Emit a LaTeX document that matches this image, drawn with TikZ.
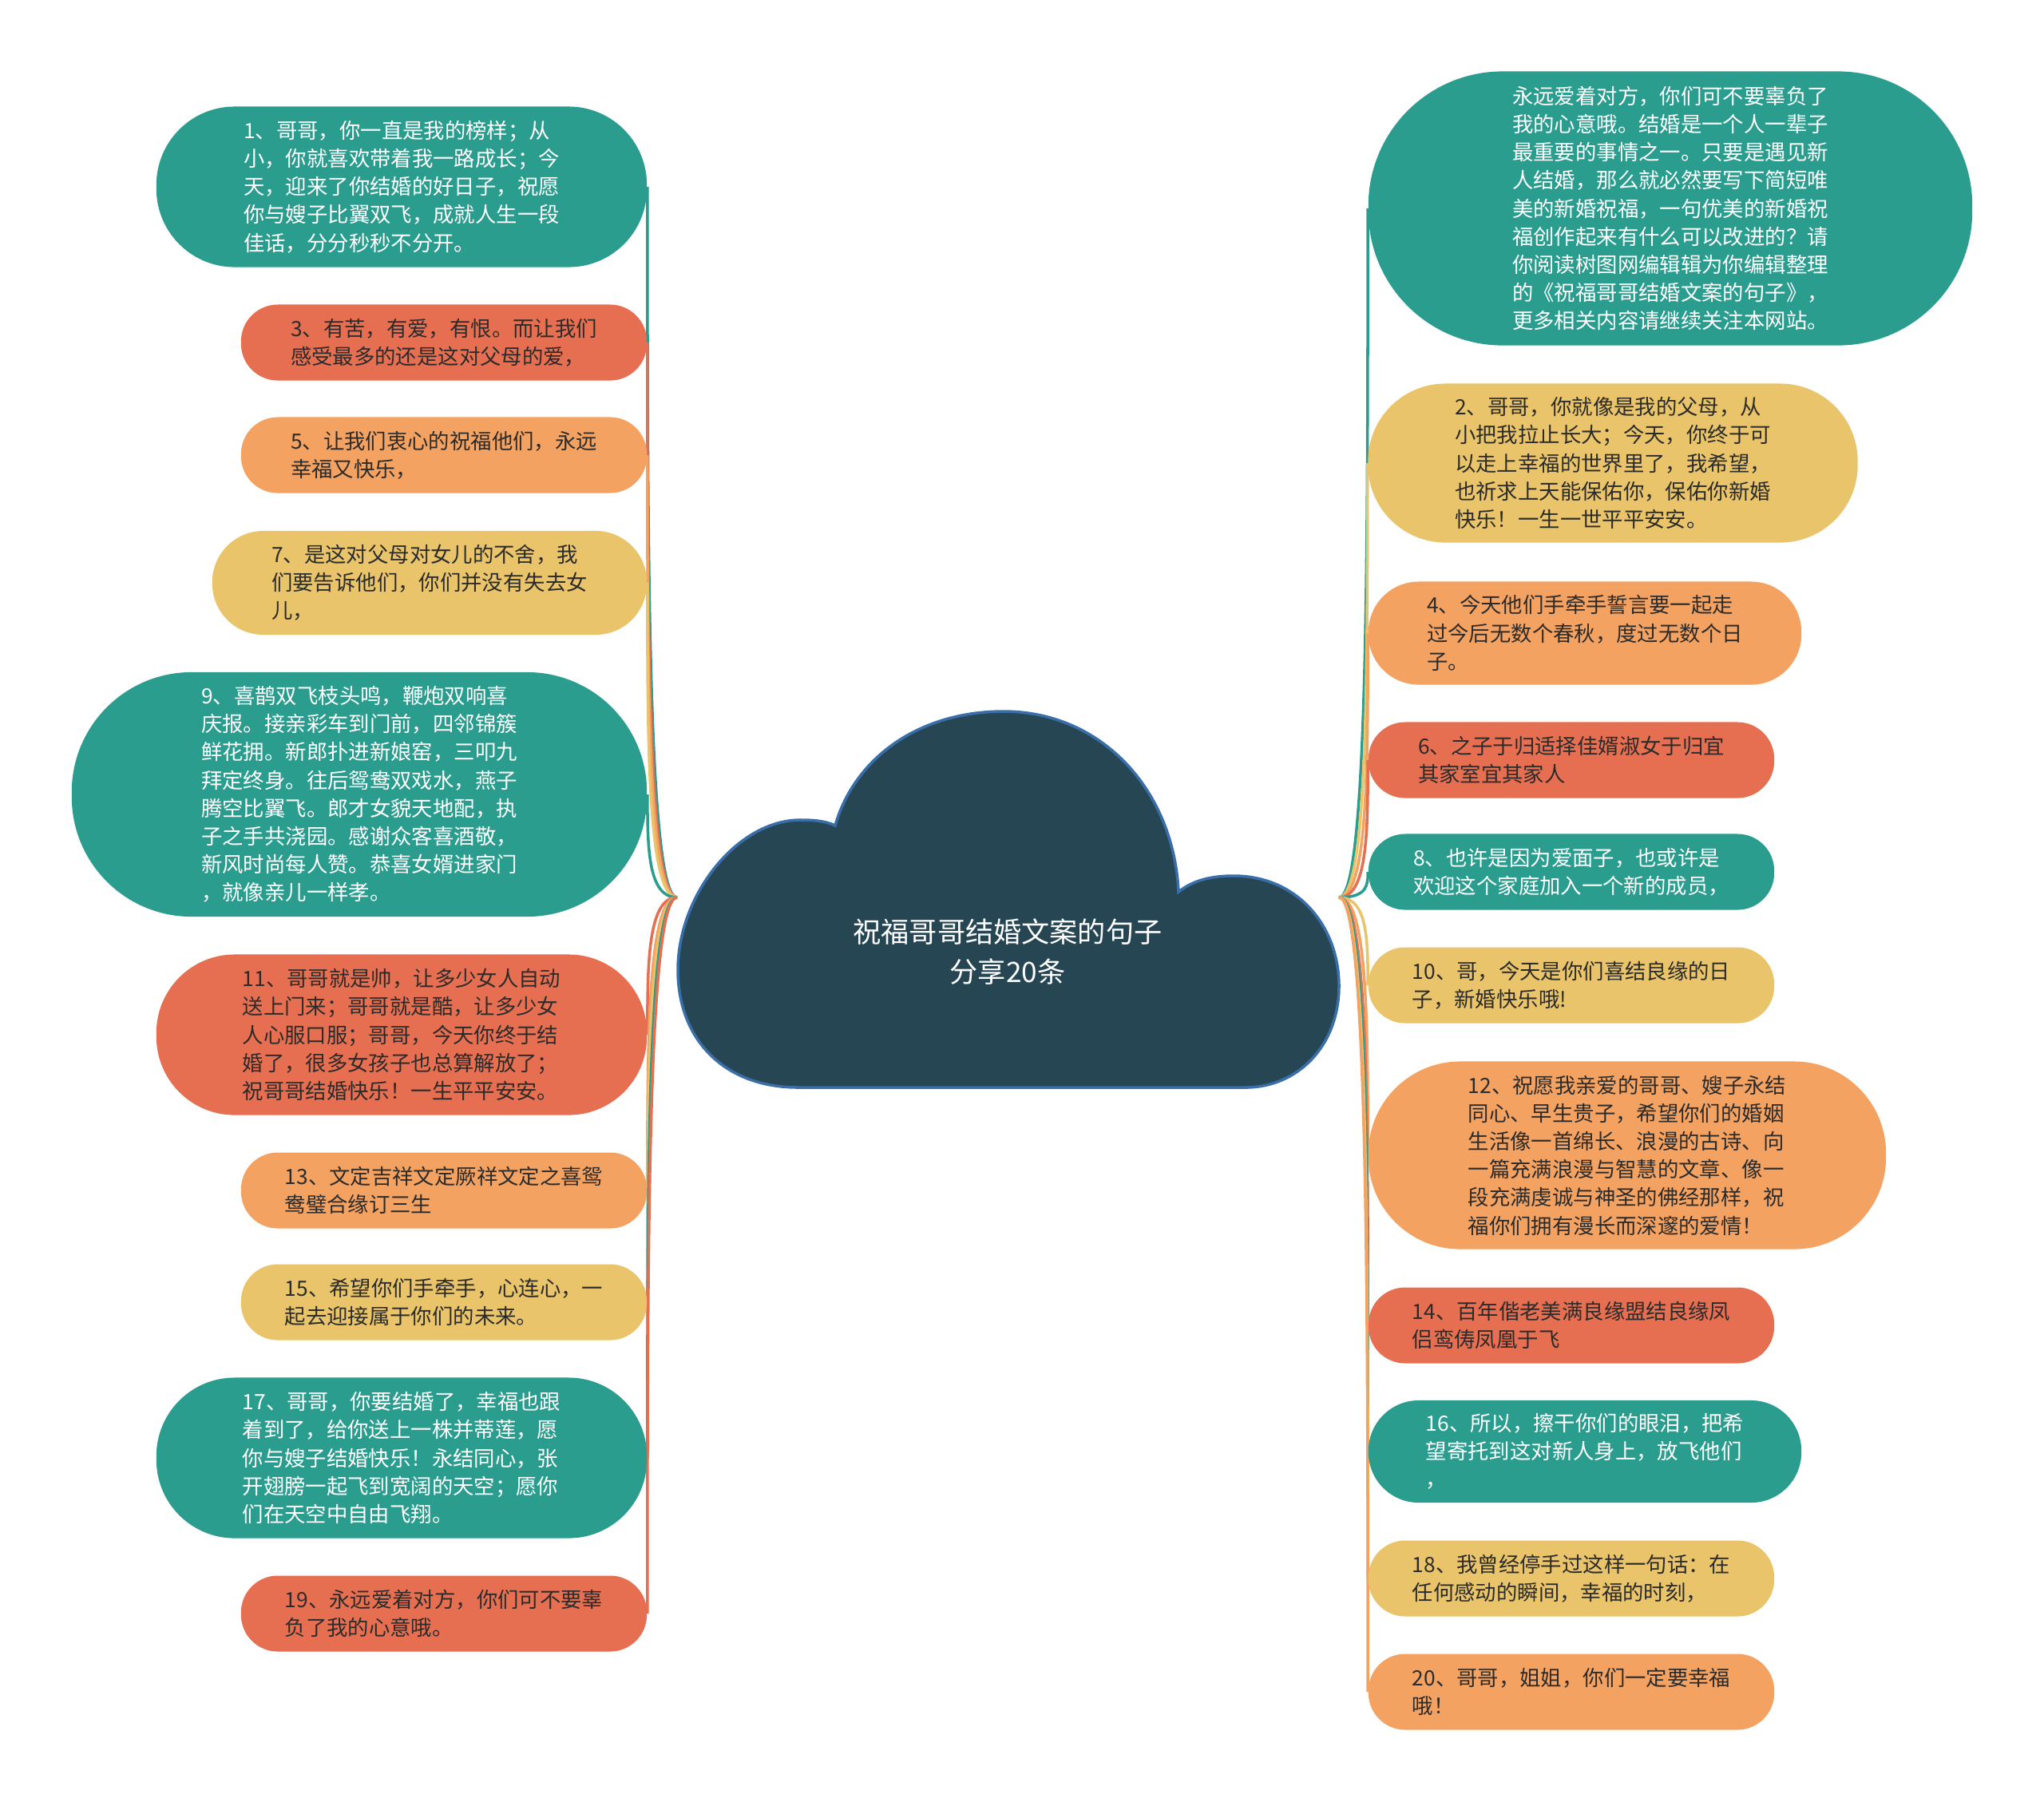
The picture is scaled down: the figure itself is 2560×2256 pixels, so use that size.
\documentclass[tikz,border=0pt]{standalone}
\usepackage{fontspec}
\newfontfamily\cjk{Noto Sans CJK SC}
\usetikzlibrary{calc,backgrounds}

\definecolor{tealc}{HTML}{2A9D8F}
\definecolor{redc}{HTML}{E76F51}
\definecolor{orangec}{HTML}{F4A261}
\definecolor{yellowc}{HTML}{E9C46A}
\definecolor{cloudc}{HTML}{264653}
\definecolor{cloudline}{HTML}{3A6EA8}
\definecolor{darktext}{HTML}{2B2B2B}

\tikzset{
  pill/.style={rectangle, align=left, inner sep=0pt,
    font=\cjk\fontsize{7.5}{10}\selectfont},
  tealpill/.style={pill, fill=tealc, text=white},
  redpill/.style={pill, fill=redc, text=darktext},
  orangepill/.style={pill, fill=orangec, text=darktext},
  yellowpill/.style={pill, fill=yellowc, text=darktext},
  link/.style={line width=1pt},
}

\begin{document}
\begin{tikzpicture}[x=0.01cm, y=-0.01cm]
    \useasboundingbox (0,0) rectangle (2560,2256);

    % the cloud in the middle
    \filldraw[fill=cloudc, draw=cloudline, line width=1pt]
        (1000,1362) .. controls (905,1362) and (849,1300) .. (849,1215)
        .. controls (849,1120) and (925,1025) .. (1005,1027)
        .. controls (1025,1027) and (1038,1030) .. (1046,1034)
        .. controls (1070,950) and (1150,891) .. (1257,891)
        .. controls (1380,891) and (1470,990) .. (1476,1117)
        .. controls (1495,1102) and (1518,1097) .. (1545,1097)
        .. controls (1625,1097) and (1677,1160) .. (1677,1235)
        .. controls (1677,1310) and (1625,1362) .. (1560,1362)
        -- cycle;
    \node[font=\cjk\fontsize{10}{14}\selectfont, text=white, align=center] (root)
        at (1262,1192) {祝福哥哥结婚文案的句子\\分享20条};
    \coordinate (rootW) at (848,1124);
    \coordinate (rootE) at (1677,1124);

    % left side
    \node[tealpill, minimum width=6.14cm, minimum height=2.01cm, rounded corners=0.98cm] (l1) at (503,234)
        {1、哥哥，你一直是我的榜样；从\\小，你就喜欢带着我一路成长；今\\天，迎来了你结婚的好日子，祝愿\\你与嫂子比翼双飞，成就人生一段\\佳话，分分秒秒不分开。};
    \node[redpill, minimum width=5.08cm, minimum height=0.95cm, rounded corners=0.46cm] (l3) at (556,429)
        {3、有苦，有爱，有恨。而让我们\\感受最多的还是这对父母的爱，};
    \node[orangepill, minimum width=5.08cm, minimum height=0.95cm, rounded corners=0.46cm] (l5) at (556,570)
        {5、让我们衷心的祝福他们，永远\\幸福又快乐，};
    \node[yellowpill, minimum width=5.44cm, minimum height=1.30cm, rounded corners=0.64cm] (l7) at (538,730)
        {7、是这对父母对女儿的不舍，我\\们要告诉他们，你们并没有失去女\\儿，};
    \node[tealpill, minimum width=7.20cm, minimum height=3.06cm, rounded corners=1.5cm] (l9) at (450,995)
        {9、喜鹊双飞枝头鸣，鞭炮双响喜\\庆报。接亲彩车到门前，四邻锦簇\\鲜花拥。新郎扑进新娘窑，三叩九\\拜定终身。往后鸳鸯双戏水，燕子\\腾空比翼飞。郎才女貌天地配，执\\子之手共浇园。感谢众客喜酒敬，\\新风时尚每人赞。恭喜女婿进家门\\，就像亲儿一样孝。};
    \node[redpill, minimum width=6.14cm, minimum height=2.01cm, rounded corners=0.98cm] (l11) at (503,1296)
        {11、哥哥就是帅，让多少女人自动\\送上门来；哥哥就是酷，让多少女\\人心服口服；哥哥，今天你终于结\\婚了，很多女孩子也总算解放了；\\祝哥哥结婚快乐！一生平平安安。};
    \node[orangepill, minimum width=5.08cm, minimum height=0.95cm, rounded corners=0.46cm] (l13) at (556,1491)
        {13、文定吉祥文定厥祥文定之喜鸳\\鸯璧合缘订三生};
    \node[yellowpill, minimum width=5.08cm, minimum height=0.95cm, rounded corners=0.46cm] (l15) at (556,1631)
        {15、希望你们手牵手，心连心，一\\起去迎接属于你们的未来。};
    \node[tealpill, minimum width=6.14cm, minimum height=2.01cm, rounded corners=0.98cm] (l17) at (503,1826)
        {17、哥哥，你要结婚了，幸福也跟\\着到了，给你送上一株并蒂莲，愿\\你与嫂子结婚快乐！永结同心，张\\开翅膀一起飞到宽阔的天空；愿你\\们在天空中自由飞翔。};
    \node[redpill, minimum width=5.08cm, minimum height=0.95cm, rounded corners=0.46cm] (l19) at (556,2021)
        {19、永远爱着对方，你们可不要辜\\负了我的心意哦。};

    % right side
    \node[tealpill, minimum width=7.56cm, minimum height=3.43cm, rounded corners=1.68cm] (r0) at (2092,261)
        {永远爱着对方，你们可不要辜负了\\我的心意哦。结婚是一个人一辈子\\最重要的事情之一。只要是遇见新\\人结婚，那么就必然要写下简短唯\\美的新婚祝福，一句优美的新婚祝\\福创作起来有什么可以改进的？请\\你阅读树图网编辑辑为你编辑整理\\的《祝福哥哥结婚文案的句子》，\\更多相关内容请继续关注本网站。};
    \node[yellowpill, minimum width=6.13cm, minimum height=1.99cm, rounded corners=0.97cm] (r2) at (2020,580)
        {2、哥哥，你就像是我的父母，从\\小把我拉止长大；今天，你终于可\\以走上幸福的世界里了，我希望，\\也祈求上天能保佑你，保佑你新婚\\快乐！一生一世平平安安。};
    \node[orangepill, minimum width=5.42cm, minimum height=1.29cm, rounded corners=0.63cm] (r4) at (1985,793)
        {4、今天他们手牵手誓言要一起走\\过今后无数个春秋，度过无数个日\\子。};
    \node[redpill, minimum width=5.08cm, minimum height=0.95cm, rounded corners=0.46cm] (r6) at (1968,952)
        {6、之子于归适择佳婿淑女于归宜\\其家室宜其家人};
    \node[tealpill, minimum width=5.08cm, minimum height=0.95cm, rounded corners=0.46cm] (r8) at (1968,1092)
        {8、也许是因为爱面子，也或许是\\欢迎这个家庭加入一个新的成员，};
    \node[yellowpill, minimum width=5.08cm, minimum height=0.95cm, rounded corners=0.46cm] (r10) at (1968,1234)
        {10、哥，今天是你们喜结良缘的日\\子，新婚快乐哦!};
    \node[orangepill, minimum width=6.48cm, minimum height=2.35cm, rounded corners=1.15cm] (r12) at (2038,1447)
        {12、祝愿我亲爱的哥哥、嫂子永结\\同心、早生贵子，希望你们的婚姻\\生活像一首绵长、浪漫的古诗、向\\一篇充满浪漫与智慧的文章、像一\\段充满虔诚与神圣的佛经那样，祝\\福你们拥有漫长而深邃的爱情！};
    \node[redpill, minimum width=5.08cm, minimum height=0.95cm, rounded corners=0.46cm] (r14) at (1968,1660)
        {14、百年偕老美满良缘盟结良缘凤\\侣鸾俦凤凰于飞};
    \node[tealpill, minimum width=5.42cm, minimum height=1.28cm, rounded corners=0.63cm] (r16) at (1985,1818)
        {16、所以，擦干你们的眼泪，把希\\望寄托到这对新人身上，放飞他们\\，};
    \node[yellowpill, minimum width=5.08cm, minimum height=0.95cm, rounded corners=0.46cm] (r18) at (1968,1977)
        {18、我曾经停手过这样一句话：在\\任何感动的瞬间，幸福的时刻，};
    \node[orangepill, minimum width=5.08cm, minimum height=0.95cm, rounded corners=0.46cm] (r20) at (1968,2119)
        {20、哥哥，姐姐，你们一定要幸福\\哦！};

    % connectors behind the boxes
    \begin{scope}[on background layer]
    \foreach \n/\c in {l1/tealc,l3/redc,l5/orangec,l7/yellowc,l9/tealc,
                       l11/redc,l13/orangec,l15/yellowc,l17/tealc,l19/redc}
        \draw[link, draw=\c] (rootW) .. controls (rootW -| \n.east)
            and ($(\n.east)!0.5!(\n.east |- rootW)$) .. (\n.east);
    \foreach \n/\c in {r0/tealc,r2/yellowc,r4/orangec,r6/redc,r8/tealc,r10/yellowc,
                       r12/orangec,r14/redc,r16/tealc,r18/yellowc,r20/orangec}
        \draw[link, draw=\c] (rootE) .. controls (rootE -| \n.west)
            and ($(\n.west)!0.5!(\n.west |- rootE)$) .. (\n.west);
    \end{scope}
\end{tikzpicture}
\end{document}
